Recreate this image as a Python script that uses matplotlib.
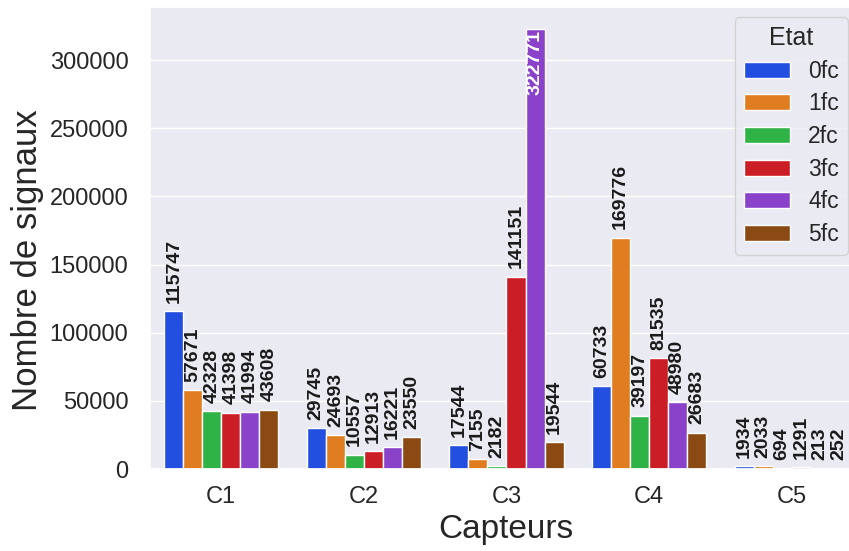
import matplotlib
matplotlib.use("Agg")
import matplotlib.pyplot as plt
import numpy as np
import seaborn as sns

capteurs = ["C1", "C2", "C3", "C4", "C5"]
etats = ["0fc", "1fc", "2fc", "3fc", "4fc", "5fc"]
values = {
    "0fc": [115747, 29745, 17544, 60733, 1934],
    "1fc": [57671, 24693, 7155, 169776, 2033],
    "2fc": [42328, 10557, 2182, 39197, 694],
    "3fc": [41398, 12913, 141151, 81535, 1291],
    "4fc": [41994, 16221, 322771, 48980, 213],
    "5fc": [43608, 23550, 19544, 26683, 252],
}

sns.set_theme(style="darkgrid")
plt.rcParams["font.family"] = ["Liberation Sans", "DejaVu Sans"]

palette = [sns.desaturate(c, 0.75) for c in sns.color_palette("bright", 6)]

fig = plt.figure(figsize=(8.49, 5.51), dpi=100)
ax = fig.add_axes([150 / 849, 1 - 469 / 551, 713 / 849, 462 / 551])

x = np.arange(len(capteurs))
n = len(etats)
width = 0.8 / n
vmax = max(max(v) for v in values.values())
for i, et in enumerate(etats):
    offs = -0.4 + width * (i + 0.5)
    bars = ax.bar(x + offs, values[et], width, color=palette[i], label=et,
                  edgecolor="white", linewidth=1)
    labels = ["" if v == vmax else str(v) for v in values[et]]
    ax.bar_label(bars, labels=labels, rotation=90, padding=6,
                 fontsize=14, fontweight="bold", color="#1a1a1a")
    for b, v in zip(bars, values[et]):
        if v == vmax:
            ax.annotate(str(v), xy=(b.get_x() + b.get_width() / 2, b.get_height()),
                        xytext=(0, -1), textcoords="offset points",
                        rotation=90, ha="center", va="top", color="white",
                        fontsize=14, fontweight="bold")

ax.set_xlim(-0.5, len(capteurs) - 0.5)
ax.set_xticks(x)
ax.set_xticklabels(capteurs)
ax.set_yticks(np.arange(0, 300001, 50000))
ax.xaxis.grid(False)
ax.tick_params(axis="y", labelsize=17, pad=15.5, length=0)
ax.tick_params(axis="x", labelsize=17, pad=12, length=0)
ax.set_xlabel("Capteurs", fontsize=24)
ax.set_ylabel("Nombre de signaux", fontsize=25)
ax.xaxis.set_label_coords((506 - 150) / 713, -(514 - 469) / 462)
ax.yaxis.set_label_coords(-(150 - 44) / 713, (469 - 260) / 462)

leg = ax.legend(title="Etat", loc="upper right",
                bbox_to_anchor=(848 / 849, 1 - 17 / 551),
                bbox_transform=fig.transFigure, borderaxespad=0,
                fontsize=16.5, title_fontsize=18, labelspacing=0.42)

fig.savefig("out.png", dpi=100)
